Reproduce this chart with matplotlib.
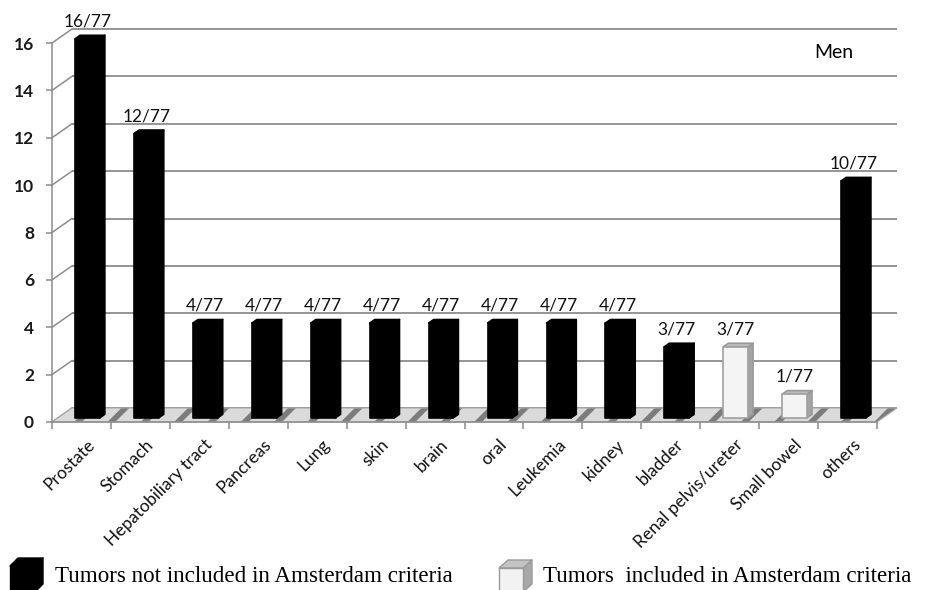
"""
Tumour sites in men from the registry cohort (n = 77),
drawn as an Excel-style 3-D column chart.
"""

import matplotlib.pyplot as plt
import matplotlib.transforms as mtransforms
from matplotlib.patches import Polygon
from matplotlib.lines import Line2D
import numpy as np

# Data
categories = ['Prostate', 'Stomach', 'Hepatobiliary tract', 'Pancreas', 'Lung',
              'skin', 'brain', 'oral', 'Leukemia', 'kidney', 'bladder',
              'Renal pelvis/ureter', 'Small bowel', 'others']
counts = [16, 12, 4, 4, 4, 4, 4, 4, 4, 4, 3, 3, 1, 10]
total = 77
in_amsterdam = [False] * 11 + [True, True, False]
y_ticks = [0, 2, 4, 6, 8, 10, 12, 14, 16]

legend_labels = ['Tumors not included in Amsterdam criteria',
                 'Tumors  included in Amsterdam criteria']

# Oblique "depth" of the chart in pixels, and where the columns sit in it
DPI = 100
DX, DY = 20, 14
D0, D1 = 0.3, 0.55
W = 0.42

GRID = '#8c8c8c'
FONT = 'Lato'

fig = plt.figure(figsize=(9.32, 5.9), dpi=DPI)
ax = fig.add_axes([52 / 932, (590 - 422) / 590, (877 - 52) / 932, (422 - 43) / 590])
ax.set_xlim(-0.5, len(categories) - 0.5)
ax.set_ylim(0, 16)
ax.patch.set_visible(False)

for side in ['top', 'right']:
    ax.spines[side].set_visible(False)
ax.spines['left'].set_color(GRID)
ax.spines['bottom'].set_color(GRID)
ax.spines['left'].set_linewidth(1.1)
ax.spines['bottom'].set_linewidth(1.1)

idx = np.arange(len(categories))
x_left, x_right = ax.get_xlim()


def depth_trans(d):
    return ax.transData + mtransforms.Affine2D().translate(d * DX, d * DY)


def proj(x, y, d):
    px, py = ax.transData.transform((x, y))
    return (px + d * DX, py + d * DY)


pix = mtransforms.IdentityTransform()

# Back wall grid lines and the short ones on the left wall
ax.hlines(y_ticks, x_left, x_right, colors=GRID, linewidth=1.3,
          transform=depth_trans(1), clip_on=False, zorder=1)
for lv in y_ticks:
    p0, p1 = proj(x_left, lv, 0), proj(x_left, lv, 1)
    ax.add_line(Line2D([p0[0], p1[0]], [p0[1], p1[1]], color=GRID, lw=1.1,
                       transform=pix, clip_on=False, zorder=1))

# Striped floor
plt.rcParams['hatch.linewidth'] = 4.0
floor = [proj(x_left, 0, 0), proj(x_right, 0, 0), proj(x_right, 0, 1), proj(x_left, 0, 1)]
ax.add_patch(Polygon(floor, closed=True, facecolor='#dadada', edgecolor='#7c7c7c',
                     hatch='/', linewidth=0, transform=pix, clip_on=False, zorder=1.5))
ax.add_patch(Polygon(floor, closed=True, fill=False, edgecolor='#a8a8a8',
                     linewidth=0.8, transform=pix, clip_on=False, zorder=1.6))

# Columns: side and top faces first, front faces from ax.bar
front_colors = []
edge_colors = []
for i, (v, light) in enumerate(zip(counts, in_amsterdam)):
    x0, x1 = i - W / 2, i + W / 2
    side = [proj(x1, 0, D0), proj(x1, 0, D1), proj(x1, v, D1), proj(x1, v, D0)]
    top = [proj(x0, v, D0), proj(x1, v, D0), proj(x1, v, D1), proj(x0, v, D1)]
    if light:
        side_c, top_c, edge = '#a4a4a4', '#bcbcbc', '#9a9a9a'
        front_colors.append('#f4f4f4')
        edge_colors.append('#a0a0a0')
    else:
        side_c, top_c, edge = 'black', 'black', 'black'
        front_colors.append('black')
        edge_colors.append('black')
    for face, fc in [(side, side_c), (top, top_c)]:
        ax.add_patch(Polygon(face, closed=True, facecolor=fc, edgecolor=edge,
                             linewidth=1.2, joinstyle='round', transform=pix,
                             clip_on=False, zorder=2.5))

ax.bar(idx, counts, width=W, color=front_colors, edgecolor=edge_colors,
       linewidth=1.2, joinstyle='round', transform=depth_trans(D0),
       clip_on=False, zorder=3)

# Value labels over each column
for i, v in enumerate(counts):
    ax.annotate(f'{v}/{total}', xy=(i, v), xycoords=depth_trans(D0),
                xytext=(0, 12.5), textcoords='offset points',
                ha='center', va='center', fontsize=12.5, family=FONT,
                color='#111111', zorder=5)

# Category labels, rotated under the floor
for i, name in enumerate(categories):
    ax.annotate(name, xy=(i, 0), xycoords='data', xytext=(7.5, -14.5),
                textcoords='offset points', rotation=45, rotation_mode='anchor',
                ha='right', va='center', fontsize=12.5, family=FONT, color='#111111')

# Axis ticks
ax.set_xticks(np.arange(x_left, x_right + 0.01, 1.0))
ax.set_xticklabels([])
ax.tick_params(axis='x', length=5, width=1.1, color=GRID, direction='out')
ax.set_yticks(y_ticks)
ax.set_yticklabels([str(t) for t in y_ticks], fontsize=12.5, fontweight='bold',
                   family=FONT, color='#1a1a1a')
ax.tick_params(axis='y', length=4, width=1.1, color=GRID, pad=9)

fig.text(834 / 932, 1 - 52 / 590, 'Men', ha='center', va='center',
         fontsize=14, family=FONT, color='black')


# Legend: small boxes and serif captions along the bottom
def legend_box(x0, y_top, w, h, dx, dy, front, side, top, edge):
    yb = 590 - (y_top + h)
    yt = 590 - y_top
    faces = [
        ([(x0 + w, yb), (x0 + w + dx, yb + dy), (x0 + w + dx, yt + dy), (x0 + w, yt)], side),
        ([(x0, yt), (x0 + w, yt), (x0 + w + dx, yt + dy), (x0 + dx, yt + dy)], top),
        ([(x0, yb), (x0 + w, yb), (x0 + w, yt), (x0, yt)], front),
    ]
    for pts, fc in faces:
        fig.add_artist(Polygon(pts, closed=True, facecolor=fc, edgecolor=edge,
                               linewidth=1.0, joinstyle='round', transform=pix))


legend_box(10, 566, 25, 26, 8, 8, 'black', 'black', 'black', 'black')
legend_box(499, 568, 24, 24, 9, 8, '#f2f2f2', '#a8a8a8', '#c4c4c4', '#9a9a9a')

fig.text(55 / 932, 1 - 582 / 590, legend_labels[0], ha='left', va='baseline',
         fontsize=16.6, family='Liberation Serif', color='black')
fig.text(543 / 932, 1 - 582 / 590, legend_labels[1], ha='left', va='baseline',
         fontsize=16.6, family='Liberation Serif', color='black')

plt.savefig('out.png', dpi=DPI)
